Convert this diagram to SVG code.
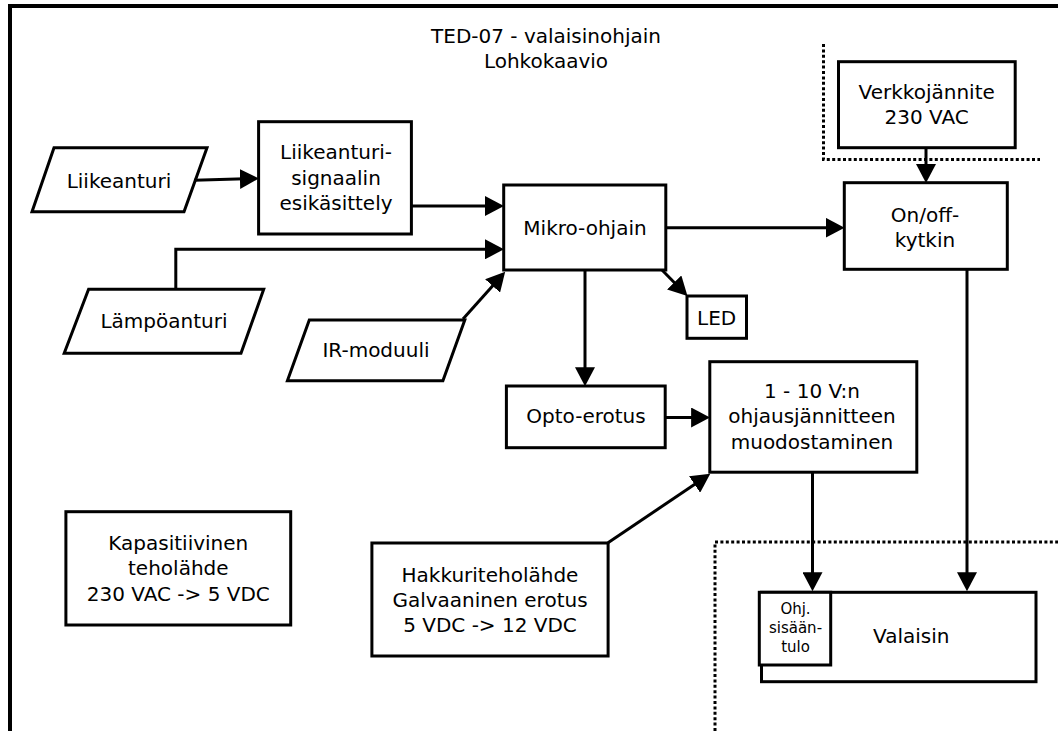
<svg xmlns="http://www.w3.org/2000/svg" width="1058" height="731" viewBox="0 0 1058 731">
<defs>
<marker id="ah" markerUnits="userSpaceOnUse" markerWidth="19" markerHeight="20" viewBox="0 0 18 19" refX="13" refY="9.5" orient="auto">
<path d="M0,0 L18,9.5 L0,19 z" fill="#000"/>
</marker>
<style>
.b{fill:#fff;stroke:#000;stroke-width:3}
.t{font-family:"DejaVu Sans","Liberation Sans",sans-serif;font-size:20px;fill:#000;text-anchor:middle}
.s{font-family:"DejaVu Sans","Liberation Sans",sans-serif;font-size:15px;fill:#000;text-anchor:middle}
.c{fill:none;stroke:#000;stroke-width:3;marker-end:url(#ah)}
.d{fill:none;stroke:#000;stroke-width:3;stroke-dasharray:3 2.4}
</style>
</defs>
<rect x="0" y="0" width="1058" height="731" fill="#fff"/>
<g id="frame">
<path d="M10,731 V6 H1058" fill="none" stroke="#000" stroke-width="4"/>
</g>
<g id="title">
<text class="t" x="546" y="43">TED-07 - valaisinohjain</text>
<text class="t" x="546" y="68">Lohkokaavio</text>
</g>
<g id="boundaries">
<path class="d" d="M823.5,44 V159.5 H1040"/>
<path class="d" d="M715,731 V542 H1058"/>
</g>
<g id="liikeanturi">
<polygon class="b" points="54,147.7 207,147.7 184,211.7 32,211.7"/>
<text class="t" x="119" y="188">Liikeanturi</text>
</g>
<g id="signaali">
<rect class="b" x="258.6" y="121.7" width="152.8" height="112.3"/>
<text class="t" x="336" y="159">Liikeanturi-</text>
<text class="t" x="336" y="185">signaalin</text>
<text class="t" x="336" y="210">esikäsittely</text>
</g>
<g id="lampoanturi">
<polygon class="b" points="88.6,289.3 263.7,289.3 241,353.3 64.2,353.3"/>
<text class="t" x="164" y="328">Lämpöanturi</text>
</g>
<g id="irmoduuli">
<polygon class="b" points="309.3,320 464.8,320 442.9,380.7 287.4,380.7"/>
<text class="t" x="376" y="357">IR-moduuli</text>
</g>
<g id="mikro">
<rect class="b" x="503.7" y="185" width="162.1" height="85"/>
<text class="t" x="585" y="235">Mikro-ohjain</text>
</g>
<g id="led">
<rect class="b" x="687" y="296" width="59.5" height="42.3"/>
<text class="t" x="716.6" y="325">LED</text>
</g>
<g id="verkko">
<rect class="b" x="838.5" y="61.7" width="176.7" height="86"/>
<text class="t" x="926.7" y="99">Verkkojännite</text>
<text class="t" x="926.7" y="124">230 VAC</text>
</g>
<g id="onoff">
<rect class="b" x="844.3" y="182.7" width="163" height="86.6"/>
<text class="t" x="925" y="221.5">On/off-</text>
<text class="t" x="925" y="246.5">kytkin</text>
</g>
<g id="opto">
<rect class="b" x="506.4" y="386" width="158.8" height="61.7"/>
<text class="t" x="586" y="423.3">Opto-erotus</text>
</g>
<g id="ohjausjannite">
<rect class="b" x="709.8" y="361.7" width="207" height="110.5"/>
<text class="t" x="812" y="397.5">1 - 10 V:n</text>
<text class="t" x="812" y="423.3">ohjausjännitteen</text>
<text class="t" x="812" y="449">muodostaminen</text>
</g>
<g id="kapasitiivinen">
<rect class="b" x="65.9" y="511.7" width="224.8" height="113.3"/>
<text class="t" x="178.3" y="550">Kapasitiivinen</text>
<text class="t" x="178.3" y="575">teholähde</text>
<text class="t" x="178.3" y="600.7">230 VAC -&gt; 5 VDC</text>
</g>
<g id="hakkuri">
<rect class="b" x="371.9" y="543" width="236.2" height="113"/>
<text class="t" x="490" y="581.7">Hakkuriteholähde</text>
<text class="t" x="490" y="606.7">Galvaaninen erotus</text>
<text class="t" x="490" y="631.7">5 VDC -&gt; 12 VDC</text>
</g>
<g id="valaisin">
<rect class="b" x="761.5" y="592.3" width="274.5" height="89.4"/>
<text class="t" x="911.3" y="643.3">Valaisin</text>
</g>
<g id="ohjsisaantulo">
<rect class="b" x="759.3" y="592.3" width="71.4" height="72.7"/>
<text class="s" x="795.5" y="614.3">Ohj.</text>
<text class="s" x="795.5" y="633.3">sisään-</text>
<text class="s" x="795.5" y="651.7">tulo</text>
</g>
<g id="connectors">
<path class="c" d="M194,180.3 L253.6,178.6"/>
<path class="c" d="M411.4,206 H498.7"/>
<path class="c" d="M175.8,288.3 V249.3 H498.7"/>
<path class="c" d="M463,319 L501.7,275.7"/>
<path class="c" d="M665.8,227.7 H839.3"/>
<path class="c" d="M926,147.7 V177.7"/>
<path class="c" d="M662,270 L683.8,292.2"/>
<path class="c" d="M585,270 V381"/>
<path class="c" d="M665.2,417.5 H704.8"/>
<path class="c" d="M608,542.7 L705.9,476.8"/>
<path class="c" d="M812.5,472.2 V586"/>
<path class="c" d="M967,269.3 V586"/>
</g>
</svg>
